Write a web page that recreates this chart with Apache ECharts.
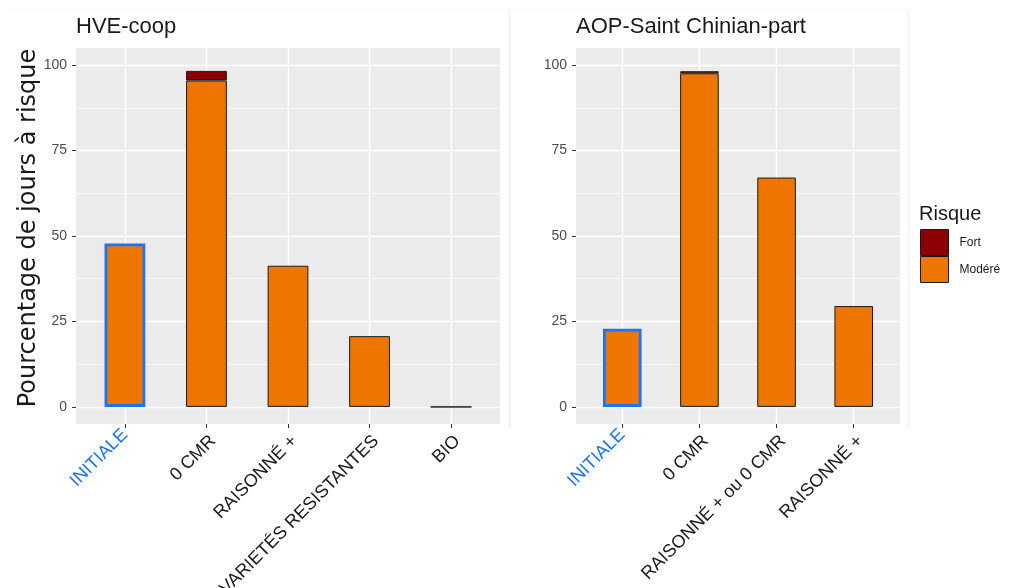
<!DOCTYPE html>
<html><head><meta charset="utf-8">
<script src="https://cdn.jsdelivr.net/npm/echarts@6/dist/echarts.min.js"></script>
<style>html,body{margin:0;padding:0;background:#fff}#c{width:1011px;height:588px}</style>
</head><body><div id="c"></div>
<script>
// ---- data ----
const leftCategories = ['INITIALE', '0 CMR', 'RAISONNÉ +', 'VARIETÉS RESISTANTES', 'BIO'];
const leftModere = [47.8, 95.5, 41.3, 20.7, 0];
const leftFort = [0, 2.8, 0, 0, 0];
const rightCategories = ['INITIALE', '0 CMR', 'RAISONNÉ + ou 0 CMR', 'RAISONNÉ +'];
const rightModere = [22.9, 97.6, 67.1, 29.5];
const rightFort = [0, 0.6, 0, 0];
const yTicks = [0, 25, 50, 75, 100];
const yMinorTicks = [12.5, 37.5, 62.5, 87.5];
const panelTitles = ['HVE-coop', 'AOP-Saint Chinian-part'];
const legendTitle = 'Risque';
const seriesNames = ['Fort', 'Modéré'];
const yTitle = 'Pourcentage de jours à risque';

// ---- style ----
const ORANGE = '#EE7600', DARKRED = '#8B0000', BLUE = '#1a73ff', INK = '#1a1a1a';
const FONT = 'Liberation Sans';
const TOP = 48, HEIGHT = 376, YMIN = -5, YMAX = 105, EXPAND = 0.6;
const panels = [
  { cats: leftCategories, mod: leftModere, fort: leftFort, left: 76, width: 424 },
  { cats: rightCategories, mod: rightModere, fort: rightFort, left: 576, width: 324 }
];

const grid = [], xAxis = [], yAxis = [], series = [];
panels.forEach((p, k) => {
  const n = p.cats.length;
  const unit = p.width / (n - 1 + 2 * EXPAND);
  const idx = p.cats.map((_, i) => i);
  // background grid (panel, gridlines, y labels)
  grid.push({ left: p.left, top: TOP, width: p.width, height: HEIGHT, show: true,
    backgroundColor: '#EBEBEB', borderWidth: 0, containLabel: false, outerBoundsMode: 'none' });
  // bar grid (category band layout matching the panel expansion)
  grid.push({ left: p.left + (EXPAND - 0.5) * unit, top: TOP, width: n * unit, height: HEIGHT, show: false,
    containLabel: false, outerBoundsMode: 'none' });

  xAxis.push({
    type: 'value', gridIndex: 2 * k, min: -EXPAND, max: n - 1 + EXPAND,
    axisLine: { show: false, onZero: false },
    axisTick: { show: false, customValues: idx },
    axisLabel: { show: false, customValues: idx },
    splitLine: { show: true, lineStyle: { color: '#FFFFFF', width: 1.4 } }
  });
  xAxis.push({
    type: 'category', gridIndex: 2 * k + 1, boundaryGap: true,
    data: p.cats.map((c, i) => i === 0 ? { value: c, textStyle: { color: BLUE } } : c),
    axisLine: { show: false, onZero: false },
    axisTick: { show: true, alignWithLabel: true, length: 4, lineStyle: { color: '#333333', width: 1 } },
    axisLabel: { interval: 0, rotate: 45, align: 'right', verticalAlign: 'top', margin: 8,
      fontFamily: FONT, fontSize: 18, color: INK, hideOverlap: false },
    splitLine: { show: false }
  });
  yAxis.push({
    type: 'value', gridIndex: 2 * k, min: YMIN, max: YMAX,
    axisLine: { show: false, onZero: false },
    axisTick: { show: true, customValues: yTicks, length: 4, lineStyle: { color: '#333333', width: 1 } },
    axisLabel: { customValues: yTicks, margin: 9, fontFamily: FONT, fontSize: 14, color: '#4D4D4D' },
    splitLine: { show: true, lineStyle: { color: '#FFFFFF', width: 1.4 } }
  });
  yAxis.push({
    type: 'value', gridIndex: 2 * k, min: YMIN, max: YMAX,
    axisLine: { show: false, onZero: false },
    axisTick: { show: false, customValues: yMinorTicks },
    axisLabel: { show: false, customValues: yMinorTicks },
    splitLine: { show: true, lineStyle: { color: '#FFFFFF', width: 0.7 } }
  });
  yAxis.push({
    type: 'value', gridIndex: 2 * k + 1, min: YMIN, max: YMAX, show: false,
    splitLine: { show: false }
  });
  series.push({
    name: 'Modéré', type: 'bar', xAxisIndex: 2 * k + 1, yAxisIndex: 3 * k + 2, stack: 's' + k,
    barWidth: '50%', z: 3,
    itemStyle: { color: ORANGE, borderColor: INK, borderWidth: 1 },
    data: p.mod.map((v, i) => i === 0
      ? { value: v, itemStyle: { borderColor: BLUE, borderWidth: 2.8 } }
      : v)
  });
  series.push({
    name: 'Fort', type: 'bar', xAxisIndex: 2 * k + 1, yAxisIndex: 3 * k + 2, stack: 's' + k,
    barWidth: '50%', z: 3,
    itemStyle: { color: DARKRED, borderColor: INK, borderWidth: 1 },
    data: p.fort.map(v => v > 0 ? v : '-')
  });
});

const chart = echarts.init(document.getElementById('c'), null, { renderer: 'canvas' });
chart.setOption({
  animation: false,
  backgroundColor: '#FFFFFF',
  grid, xAxis, yAxis, series,
  legend: {
    data: seriesNames, orient: 'vertical', left: 920, top: 229, padding: 0,
    itemWidth: 28, itemHeight: 26, itemGap: 0, icon: 'rect', selectedMode: false,
    itemStyle: { borderColor: INK, borderWidth: 1 },
    textStyle: { fontFamily: FONT, fontSize: 12, color: INK, padding: [0, 0, 0, 6] }
  },
  graphic: [
    { type: 'line', shape: { x1: 509.5, y1: 10, x2: 509.5, y2: 429 }, style: { stroke: '#F3F3F3', lineWidth: 2 }, silent: true },
    { type: 'line', shape: { x1: 908.5, y1: 10, x2: 908.5, y2: 428 }, style: { stroke: '#F3F3F3', lineWidth: 2 }, silent: true },
    { type: 'line', shape: { x1: 10, y1: 10, x2: 908, y2: 10 }, style: { stroke: '#F7F7F7', lineWidth: 1 }, silent: true },
    { type: 'text', x: 76, y: 27, style: { text: panelTitles[0], font: '22px "Liberation Sans"', fill: INK, verticalAlign: 'middle' } },
    { type: 'text', x: 576, y: 27, style: { text: panelTitles[1], font: '22px "Liberation Sans"', fill: INK, verticalAlign: 'middle' } },
    { type: 'text', x: 919, y: 214, style: { text: legendTitle, font: '20px "Liberation Sans"', fill: INK, verticalAlign: 'middle' } },
    { type: 'text', x: 29, y: 228, rotation: Math.PI / 2,
      style: { text: yTitle, font: '24px "DejaVu Sans"', fill: INK, align: 'center', verticalAlign: 'middle' } }
  ]
});
</script></body></html>
